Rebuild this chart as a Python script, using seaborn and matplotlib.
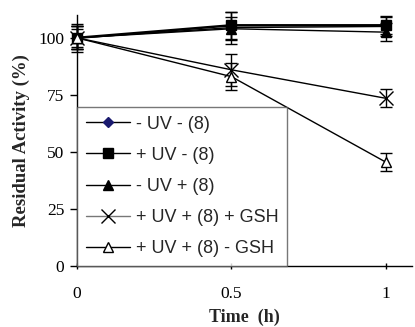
import numpy as np
import pandas as pd
import matplotlib.pyplot as plt
import seaborn as sns

# time points (h)
time_h = [0, 0.5, 1]

# residual activity (%) per condition
labels = ["- UV - (8)", "+ UV - (8)", "- UV + (8)", "+ UV + (8) + GSH", "+ UV + (8) - GSH"]
minus_uv_minus8 = [100, 104.5, 105]
plus_uv_minus8 = [100, 105.5, 105.5]
minus_uv_plus8 = [100, 104, 102.5]
plus_uv_plus8_gsh = [100, 86, 73.5]
plus_uv_plus8_nogsh = [100, 83, 45.5]

# error bars (+/-)
err_minus_uv_minus8 = [5, 7, 4]
err_plus_uv_minus8 = [6, 6, 4]
err_minus_uv_plus8 = [4, 5, 4]
err_plus_uv_plus8_gsh = [5, 7, 4]
err_plus_uv_plus8_nogsh = [5, 6, 4]

series = [minus_uv_minus8, plus_uv_minus8, minus_uv_plus8, plus_uv_plus8_gsh, plus_uv_plus8_nogsh]
errors = [err_minus_uv_minus8, err_plus_uv_minus8, err_minus_uv_plus8, err_plus_uv_plus8_gsh, err_plus_uv_plus8_nogsh]

styles = [
    dict(marker="D", ms=5, mfc="#1a1a6e", mec="#1a1a6e", lw=1.0),
    dict(marker="s", ms=7, mfc="black", mec="black", lw=1.8),
    dict(marker="^", ms=6.5, mfc="black", mec="black", lw=1.0),
    dict(marker="x", ms=10, mfc="black", mec="black", lw=1.0),
    dict(marker="^", ms=6.5, mfc="white", mec="black", lw=1.0),
]

sns.set_style("ticks")
plt.rcParams["font.family"] = ["Liberation Serif", "DejaVu Serif"]

fig = plt.figure(figsize=(4.15, 3.27), dpi=100)
ax = fig.add_axes([0.1855, 0.1865, 0.807, 0.7675])

df = pd.DataFrame({"time": np.tile(time_h, len(labels)),
                   "activity": np.concatenate(series),
                   "condition": np.repeat(labels, len(time_h))})

for lab, vals, err, st in zip(labels, series, errors, styles):
    ax.errorbar(time_h, vals, yerr=err, fmt="none", ecolor="black",
                elinewidth=1.0, capsize=4, capthick=1.0, clip_on=False, zorder=2)
    sub = df[df["condition"] == lab]
    sns.lineplot(data=sub, x="time", y="activity", ax=ax, color="black",
                 linewidth=st["lw"], marker=st["marker"], markersize=st["ms"],
                 markerfacecolor=st["mfc"], markeredgecolor=st["mec"],
                 markeredgewidth=1.0, label=lab, clip_on=False, zorder=3)

ax.set_xlim(0, 1.084)
ax.set_ylim(0, 110)
ax.set_xticks([0, 0.5, 1])
ax.set_xticklabels(["0", "0.5", "1"])
ax.set_yticks([0, 25, 50, 75, 100])
ax.tick_params(axis="both", labelsize=12.5, length=5, width=1, color="black", labelcolor="black")
ax.tick_params(axis="x", direction="inout", pad=12)
ax.tick_params(axis="y", direction="out", pad=4)
for s in ["left", "bottom"]:
    ax.spines[s].set_color("black")
    ax.spines[s].set_linewidth(1.0)
sns.despine(ax=ax)

ax.set_xlabel("Time  (h)", fontsize=13, fontweight="bold", labelpad=5)
ax.set_ylabel("Residual Activity (%)", fontsize=13.5, fontweight="bold", labelpad=6)

leg = ax.legend(loc="lower left", bbox_to_anchor=(0, 0), borderaxespad=0,
                frameon=True, fancybox=False, edgecolor="#555555",
                prop={"family": "Liberation Sans", "size": 13},
                handlelength=2.45, labelspacing=0.78, borderpad=0.5,
                handletextpad=0.3)
leg.get_frame().set_linewidth(1.0)
for h in leg.get_lines():
    h.set_linewidth(1.0)
leg.get_lines()[3].set_color("#777777")

fig.savefig("out.png", dpi=100)
